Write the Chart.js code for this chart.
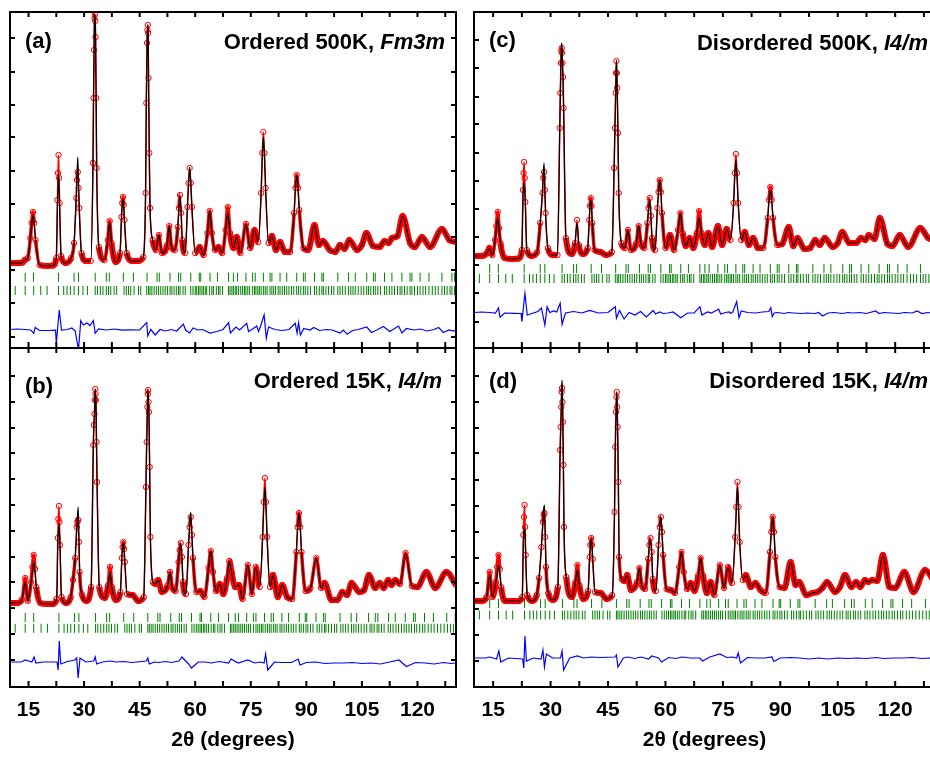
<!DOCTYPE html>
<html>
<head>
<meta charset="utf-8">
<script src="https://cdn.jsdelivr.net/npm/chart.js@4.4.1/dist/chart.umd.min.js"></script>
<style>
html, body { margin:0; padding:0; background:#fff; width:930px; height:762px; overflow:hidden; }
canvas { position:absolute; }
</style>
</head>
<body>
<canvas id="pa" width="466" height="358" style="left:0;top:0;"></canvas>
<canvas id="pb" width="466" height="424" style="left:0;top:338px;"></canvas>
<canvas id="pc" width="481" height="358" style="left:464px;top:0;"></canvas>
<canvas id="pd" width="481" height="424" style="left:464px;top:338px;"></canvas>
<script>
// ═══ DATA ═══
// 2θ grids (degrees): 500 K and 15 K patterns
const tth500 = [
  10.0, 12.0, 13.4, 14.0, 14.8, 15.5, 15.85, 16.2, 16.55, 16.9,
  18.0, 20.0, 21.6, 22.5, 22.8, 22.95, 23.1, 23.25, 23.4, 23.8,
  25.0, 26.5, 27.3, 27.9, 28.1, 28.3, 28.5, 28.7, 29.3, 30.5,
  31.8, 32.4, 32.55, 32.7, 32.8, 32.9, 33.0, 33.1, 33.25, 33.4,
  34.0, 35.5, 36.4, 36.9, 37.4, 38.5, 39.7, 40.1, 40.3, 40.5,
  40.7, 40.9, 41.5, 43.0, 44.5, 46.0, 46.6, 46.8, 47.0, 47.1,
  47.2, 47.3, 47.4, 47.6, 47.8, 48.5, 49.4, 50.2, 51.0, 52.4,
  53.0, 53.6, 54.5, 55.3, 55.6, 55.9, 56.2, 56.5, 57.3, 57.9,
  58.2, 58.5, 58.8, 59.1, 60.0, 61.2, 62.3, 63.3, 63.9, 64.5,
  65.3, 66.3, 67.3, 68.2, 68.8, 69.4, 70.3, 71.2, 72.2, 73.7,
  74.8, 76.0, 77.0, 77.8, 78.1, 78.4, 78.7, 79.0, 79.8, 80.7,
  81.8, 82.9, 84.2, 85.6, 86.7, 87.05, 87.4, 87.75, 88.1, 89.2,
  90.5, 92.2, 93.4, 94.5, 96.3, 97.8, 99.1, 100.3, 101.6, 103.7,
  105.0, 106.2, 108.0, 109.8, 111.1, 112.2, 113.1, 114.6, 116.0, 118.0,
  119.3, 121.2, 123.4, 126.6, 128.6, 130.4
];
const tth15 = [
  10.0, 12.0, 13.3, 14.1, 14.8, 15.7, 16.05, 16.4, 16.75, 17.1,
  18.2, 20.0, 21.6, 22.6, 22.9, 23.05, 23.2, 23.35, 23.5, 23.9,
  25.2, 26.4, 27.0, 27.6, 28.0, 28.2, 28.4, 28.6, 28.8, 29.4,
  30.6, 31.9, 32.5, 32.65, 32.8, 32.9, 33.0, 33.1, 33.2, 33.35,
  33.5, 34.1, 35.6, 36.5, 37.0, 37.5, 38.6, 39.8, 40.2, 40.4,
  40.6, 40.8, 41.0, 41.6, 43.1, 44.6, 46.1, 46.7, 46.9, 47.1,
  47.2, 47.3, 47.4, 47.5, 47.7, 47.9, 48.6, 49.3, 50.0, 51.0,
  52.6, 53.2, 53.8, 54.7, 55.5, 55.8, 56.1, 56.4, 56.7, 57.5,
  58.2, 58.5, 58.8, 59.1, 59.4, 60.3, 61.4, 62.5, 63.6, 64.2,
  64.8, 65.6, 66.6, 67.6, 68.6, 69.2, 69.8, 70.8, 71.8, 72.8,
  74.2, 75.3, 76.3, 77.4, 78.2, 78.5, 78.8, 79.1, 79.4, 80.2,
  81.0, 82.3, 83.5, 84.8, 86.2, 87.3, 87.65, 88.0, 88.35, 88.7,
  89.8, 91.1, 92.7, 94.0, 94.9, 96.8, 98.4, 99.7, 101.0, 102.2,
  104.3, 105.6, 106.9, 108.6, 109.8, 110.9, 112.1, 113.0, 114.0, 115.3,
  116.8, 118.5, 120.0, 122.4, 124.8, 127.8, 130.4
];

// (a) ordered, 500 K
const obsA = [
  850, 850, 855, 880, 900, 1100, 1250, 1360, 1250, 1080,
  830, 820, 825, 900, 1480, 1750, 1930, 1700, 1450, 920,
  850, 900, 1050, 1500, 1680, 1760, 1600, 1400, 950, 870,
  870, 1850, 2500, 2980, 3300, 3340, 3270, 3110, 2500, 1800,
  1010, 880, 1080, 1270, 1050, 860, 950, 1310, 1450, 1510,
  1430, 1280, 950, 870, 870, 910, 1550, 2450, 3050, 3180,
  3230, 3150, 2700, 1950, 1400, 1080, 980, 1130, 950, 1030,
  1220, 1010, 980, 1210, 1400, 1530, 1350, 1080, 950, 1410,
  1650, 1800, 1650, 1410, 950, 1010, 930, 1150, 1370, 1150,
  980, 1010, 950, 1180, 1410, 1150, 1000, 1110, 950, 1240,
  1000, 1180, 1060, 1550, 1950, 2160, 1950, 1600, 1050, 1120,
  980, 1060, 960, 960, 1350, 1600, 1730, 1600, 1380, 1000,
  980, 1230, 1030, 1070, 980, 960, 1030, 990, 1080, 980,
  1030, 1150, 1020, 1010, 1070, 1050, 1100, 1120, 1320, 1050,
  1010, 1110, 1010, 1190, 1080, 1060
];
const calcA = [
  850, 850, 855, 880, 900, 1100, 1230, 1330, 1230, 1080,
  830, 820, 825, 900, 1400, 1600, 1740, 1600, 1400, 920,
  850, 900, 1050, 1550, 1750, 1910, 1650, 1380, 950, 870,
  870, 1850, 2500, 2980, 3300, 3340, 3270, 3110, 2500, 1800,
  1010, 880, 1080, 1260, 1050, 860, 950, 1310, 1440, 1490,
  1420, 1280, 950, 870, 870, 910, 1550, 2450, 3050, 3180,
  3230, 3150, 2700, 1950, 1400, 1080, 980, 1130, 950, 1030,
  1220, 1010, 980, 1210, 1400, 1520, 1350, 1080, 950, 1410,
  1650, 1810, 1650, 1410, 950, 1010, 930, 1150, 1370, 1150,
  980, 1010, 950, 1180, 1350, 1150, 1000, 1110, 950, 1240,
  1000, 1180, 1060, 1550, 1900, 2110, 1900, 1600, 1050, 1120,
  980, 1060, 960, 960, 1350, 1600, 1730, 1600, 1380, 1000,
  980, 1230, 1030, 1070, 980, 960, 1030, 990, 1080, 980,
  1030, 1150, 1020, 1010, 1070, 1050, 1100, 1120, 1320, 1050,
  1010, 1110, 1010, 1190, 1080, 1060
];

// (b) ordered, 15 K
const obsB = [
  840, 840, 880, 1090, 860, 1050, 1200, 1320, 1180, 1000,
  840, 830, 830, 880, 1490, 1680, 1810, 1650, 1420, 900,
  840, 900, 1070, 1290, 1600, 1650, 1670, 1450, 1150, 930,
  860, 1000, 2420, 2620, 2730, 2870, 2980, 2930, 2870, 2450,
  2050, 1000, 890, 1020, 1200, 1000, 870, 950, 1290, 1400,
  1450, 1380, 1250, 930, 920, 860, 900, 2000, 2450, 2800,
  2930, 2970, 2850, 2750, 2200, 1500, 1050, 1030, 1070, 950,
  1020, 1150, 1000, 960, 1250, 1370, 1440, 1300, 1050, 930,
  1420, 1600, 1700, 1520, 1290, 950, 960, 900, 1190, 1360,
  1150, 960, 1030, 930, 1090, 1260, 1150, 1000, 1020, 880,
  1220, 930, 1200, 1000, 1500, 1850, 2090, 1850, 1500, 1000,
  1120, 900, 1020, 900, 880, 1350, 1600, 1740, 1600, 1350,
  960, 990, 1290, 990, 1040, 870, 870, 950, 920, 1040,
  950, 970, 1120, 990, 1040, 990, 1070, 1020, 1070, 1030,
  1340, 1010, 1000, 1150, 990, 1150, 1020
];
const calcB = [
  840, 840, 880, 1050, 860, 1050, 1150, 1250, 1150, 1000,
  840, 830, 830, 880, 1430, 1550, 1630, 1550, 1420, 900,
  840, 900, 1070, 1290, 1550, 1700, 1800, 1500, 1150, 930,
  860, 1000, 2420, 2620, 2730, 2870, 2980, 2930, 2870, 2450,
  2050, 1000, 890, 1020, 1150, 1000, 870, 950, 1290, 1400,
  1450, 1380, 1250, 930, 920, 860, 900, 2000, 2450, 2800,
  2930, 2970, 2850, 2750, 2200, 1500, 1050, 1030, 1070, 950,
  1020, 1150, 1000, 960, 1250, 1370, 1440, 1300, 1050, 930,
  1420, 1620, 1750, 1520, 1290, 950, 960, 900, 1190, 1360,
  1150, 960, 1030, 930, 1090, 1260, 1150, 1000, 1020, 880,
  1220, 930, 1200, 1000, 1500, 1800, 2000, 1800, 1500, 1000,
  1120, 900, 1020, 900, 880, 1350, 1600, 1740, 1600, 1350,
  960, 990, 1290, 990, 1040, 870, 870, 950, 920, 1040,
  950, 970, 1120, 990, 1040, 990, 1070, 1020, 1070, 1030,
  1330, 1010, 1000, 1150, 990, 1150, 1020
];

// (c) disordered, 500 K
const obsC = [
  920, 920, 950, 1000, 930, 1080, 1220, 1360, 1200, 1050,
  900, 890, 895, 980, 1580, 1750, 1860, 1700, 1460, 980,
  920, 960, 1250, 1550, 1700, 1760, 1580, 1350, 1000, 930,
  930, 2200, 2550, 2850, 2970, 3000, 2950, 2850, 2710, 2400,
  1100, 940, 1050, 1280, 1030, 940, 1000, 1280, 1420, 1500,
  1420, 1250, 980, 960, 930, 960, 1800, 2200, 2550, 2750,
  2870, 2750, 2600, 2150, 1550, 1050, 1000, 1180, 980, 1050,
  1220, 1050, 1000, 1250, 1400, 1500, 1320, 1100, 980, 1400,
  1560, 1680, 1560, 1350, 1000, 1130, 980, 1180, 1350, 1150,
  1020, 1100, 1000, 1150, 1370, 1150, 1030, 1150, 1010, 1220,
  1030, 1190, 1080, 1450, 1750, 1940, 1750, 1450, 1080, 1160,
  1030, 1100, 1000, 1000, 1300, 1480, 1610, 1480, 1300, 1030,
  1040, 1210, 1020, 1100, 990, 1000, 1080, 1030, 1100, 1010,
  1050, 1160, 1050, 1050, 1100, 1080, 1130, 1090, 1300, 1040,
  1020, 1130, 1010, 1200, 1100, 1080
];
const calcC = [
  920, 920, 950, 1000, 930, 1080, 1200, 1300, 1180, 1050,
  900, 890, 895, 980, 1500, 1600, 1660, 1580, 1460, 980,
  920, 960, 1250, 1600, 1750, 1850, 1600, 1330, 1000, 930,
  930, 2200, 2550, 2850, 3000, 3050, 3000, 2850, 2710, 2400,
  1100, 940, 1050, 1250, 1030, 940, 1000, 1280, 1420, 1480,
  1420, 1250, 980, 960, 930, 960, 1800, 2200, 2550, 2750,
  2880, 2750, 2600, 2150, 1550, 1050, 1000, 1180, 980, 1050,
  1220, 1050, 1000, 1250, 1400, 1480, 1320, 1100, 980, 1400,
  1560, 1680, 1560, 1350, 1000, 1130, 980, 1180, 1350, 1150,
  1020, 1100, 1000, 1150, 1300, 1150, 1030, 1150, 1010, 1220,
  1030, 1190, 1080, 1450, 1700, 1880, 1700, 1450, 1080, 1160,
  1030, 1100, 1000, 1000, 1300, 1480, 1580, 1480, 1300, 1030,
  1040, 1210, 1020, 1100, 990, 1000, 1080, 1030, 1100, 1010,
  1050, 1160, 1050, 1050, 1100, 1080, 1130, 1090, 1300, 1040,
  1020, 1130, 1010, 1200, 1100, 1080
];

// (d) disordered, 15 K
const obsD = [
  860, 860, 900, 1150, 900, 1050, 1200, 1320, 1180, 1000,
  860, 860, 860, 900, 1520, 1700, 1820, 1600, 1320, 920,
  860, 920, 1090, 1400, 1650, 1720, 1740, 1500, 1200, 940,
  870, 1000, 2370, 2600, 2800, 2950, 2990, 2850, 2650, 2220,
  1600, 1100, 900, 1050, 1220, 1020, 880, 960, 1300, 1420,
  1490, 1420, 1280, 950, 940, 880, 920, 1750, 2400, 2750,
  2900, 2950, 2800, 2600, 2050, 1300, 1080, 1060, 1120, 970,
  1050, 1190, 1020, 980, 1280, 1420, 1490, 1350, 1080, 960,
  1420, 1600, 1700, 1550, 1320, 980, 970, 940, 1200, 1350,
  1150, 980, 1040, 960, 1120, 1290, 1120, 940, 1050, 920,
  1220, 990, 1200, 1040, 1500, 1800, 2050, 1800, 1450, 1070,
  1120, 1000, 1040, 970, 940, 1350, 1550, 1700, 1550, 1300,
  1000, 990, 1250, 1020, 1050, 920, 940, 950, 990, 1050,
  950, 1000, 1120, 1000, 1050, 1000, 1070, 1050, 1070, 1060,
  1320, 1000, 990, 1150, 950, 1170, 1040
];
const calcD = [
  860, 860, 900, 1120, 900, 1050, 1130, 1220, 1120, 1000,
  860, 860, 860, 900, 1450, 1550, 1600, 1500, 1320, 920,
  860, 920, 1090, 1400, 1650, 1780, 1820, 1550, 1200, 940,
  870, 1000, 2370, 2600, 2800, 3000, 3070, 2950, 2650, 2220,
  1600, 1100, 900, 1050, 1170, 1020, 880, 960, 1300, 1420,
  1480, 1420, 1280, 950, 940, 880, 920, 1750, 2400, 2750,
  2900, 2950, 2800, 2600, 2050, 1300, 1080, 1060, 1120, 970,
  1050, 1190, 1020, 980, 1280, 1420, 1480, 1350, 1080, 960,
  1420, 1600, 1710, 1550, 1320, 980, 970, 940, 1200, 1350,
  1150, 980, 1040, 960, 1120, 1290, 1120, 940, 1050, 920,
  1220, 990, 1200, 1040, 1500, 1750, 2000, 1750, 1450, 1070,
  1120, 1000, 1040, 970, 940, 1350, 1550, 1700, 1550, 1300,
  1000, 990, 1250, 1020, 1050, 920, 940, 950, 990, 1050,
  950, 1000, 1120, 1000, 1050, 1000, 1070, 1050, 1070, 1060,
  1320, 1000, 990, 1150, 950, 1170, 1040
];

// difference curves (obs - calc, offset below the patterns)
const diffTth500 = [
  10.0, 12.0, 14.0, 15.6, 16.4, 16.8, 18.0, 20.5, 22.3, 22.5,
  23.3, 23.9, 25.5, 26.7, 27.6, 28.5, 29.1, 29.8, 30.8, 31.6,
  32.5, 33.0, 33.9, 36.0, 38.2, 40.2, 42.5, 45.0, 46.9, 47.2,
  48.0, 49.2, 50.5, 52.0, 53.5, 55.0, 56.8, 57.4, 58.5, 59.4,
  60.7, 62.0, 64.0, 65.8, 67.5, 69.0, 69.5, 71.0, 72.0, 73.9,
  74.4, 75.7, 76.6, 77.1, 77.6, 78.6, 79.2, 79.8, 81.5, 83.5,
  85.3, 87.0, 87.5, 87.9, 88.4, 89.3, 91.0, 92.0, 93.5, 95.5,
  97.0, 99.1, 100.0, 101.0, 102.5, 104.0, 106.3, 107.6, 109.0, 110.8,
  112.5, 114.9, 115.8, 117.0, 119.0, 120.8, 122.5, 124.5, 125.7, 127.0,
  128.5, 129.7, 130.4
];
const diffTth15 = [
  10, 13, 14.1, 15.9, 16.5, 17.0, 19, 22.7, 23.0, 23.3,
  23.7, 25.5, 27.5, 28.0, 28.4, 28.9, 30.5, 32.6, 33.0, 33.4,
  35, 37.0, 38.6, 40.6, 43, 46.8, 47.2, 47.6, 49, 50.1,
  52, 53.6, 55.6, 56.4, 58.2, 59.0, 60.8, 62.8, 64.3, 66.5,
  69.0, 69.7, 71.6, 74.2, 76.0, 77.5, 78.6, 79.0, 79.6, 81.4,
  83.5, 86.0, 87.8, 88.3, 90, 92.6, 95, 97.5, 100, 102.5,
  105, 107.5, 110, 112.5, 115, 117, 119.5, 122, 124.5, 127,
  129, 130.4
];
const diffA = [
  185, 190, 185, 180, 147, 205, 175, 175, 178, 47,
  380, 180, 185, 200, 170, -20, 273, 230, 250, 225,
  273, 147, 190, 180, 190, 178, 182, 180, 253, 120,
  185, 130, 185, 170, 185, 170, 240, 180, 150, 200,
  180, 185, 150, 165, 185, 253, 150, 210, 180, 247,
  165, 195, 220, 165, 215, 330, 97, 210, 185, 175,
  185, 247, 150, 253, 130, 195, 180, 205, 175, 185,
  180, 150, 180, 137, 175, 185, 210, 155, 180, 215,
  165, 220, 150, 195, 180, 190, 170, 185, 205, 155,
  180, 170, 180
];
const diffB = [
  250, 250, 270, 250, 300, 240, 250, 250, 170, 460,
  230, 255, 270, 290, 90, 290, 250, 260, 300, 230,
  250, 260, 250, 255, 245, 260, 290, 230, 250, 245,
  255, 245, 260, 300, 230, 190, 250, 250, 240, 255,
  240, 280, 240, 270, 240, 250, 240, 330, 170, 250,
  245, 245, 280, 220, 245, 250, 235, 240, 240, 245,
  235, 240, 230, 250, 270, 205, 245, 240, 230, 245,
  235, 240
];
const diffC = [
  355, 360, 355, 350, 400, 307, 350, 347, 345, 263,
  547, 330, 350, 365, 400, 230, 413, 355, 370, 360,
  447, 237, 350, 365, 350, 375, 350, 355, 413, 297,
  375, 290, 355, 330, 365, 310, 375, 340, 360, 345,
  350, 360, 303, 350, 350, 413, 330, 360, 350, 390,
  340, 355, 360, 345, 360, 463, 303, 370, 355, 350,
  360, 365, 403, 313, 350, 355, 345, 355, 350, 345,
  350, 345, 355, 320, 350, 355, 345, 355, 350, 355,
  345, 370, 345, 355, 350, 345, 355, 350, 370, 345,
  355, 350, 350
];
const diffD = [
  290, 290, 300, 280, 360, 250, 290, 280, 190, 510,
  260, 290, 280, 370, 200, 330, 290, 290, 360, 170,
  290, 310, 290, 300, 295, 300, 320, 200, 290, 300,
  285, 300, 280, 310, 290, 250, 295, 285, 300, 290,
  290, 260, 300, 330, 295, 300, 290, 340, 240, 295,
  290, 290, 300, 255, 290, 295, 290, 280, 290, 280,
  290, 285, 290, 285, 295, 285, 290, 290, 295, 285,
  290, 285
];

// Bragg reflection positions, two phases per temperature
const refl500a = [
  14.1, 16.35, 23.1, 27.3, 28.5, 33.0, 36.0, 36.8, 40.6, 43.3,
  47.0, 49.7, 50.3, 53.2, 55.5, 56.1, 58.8, 61.1, 61.5, 64.0,
  66.0, 69.0, 70.3, 71.4, 73.7, 75.5, 76.2, 78.4, 80.2, 80.7,
  82.9, 84.7, 87.4, 89.2, 89.7, 92.2, 94.2, 94.6, 98.5, 101.4,
  103.2, 106.3, 108.1, 108.6, 111.1, 113.1, 115.8, 118.0, 118.5, 120.7,
  123.1, 126.6, 129.3, 130.0
];
const refl500b = [
  11.4, 14.1, 16.4, 18.3, 20.0, 23.1, 24.5, 25.4, 26.3, 27.3,
  28.5, 29.7, 30.9, 33.0, 33.6, 34.4, 35.1, 36.0, 36.6, 37.2,
  38.1, 38.8, 40.8, 41.4, 42.0, 42.6, 43.5, 44.7, 45.3, 46.9,
  47.4, 47.8, 48.3, 48.9, 49.5, 50.1, 50.7, 51.3, 51.9, 52.5,
  53.2, 53.7, 54.3, 54.9, 55.5, 55.9, 56.7, 57.3, 58.8, 59.4,
  60.0, 60.4, 60.9, 61.3, 61.8, 62.2, 62.7, 63.1, 63.9, 64.5,
  64.9, 65.7, 66.3, 66.7, 67.4, 69.0, 69.4, 69.9, 70.3, 70.8,
  71.2, 71.7, 72.3, 72.8, 73.3, 73.7, 74.2, 74.7, 75.5, 76.0,
  76.4, 76.9, 77.3, 77.8, 78.4, 78.9, 79.4, 80.2, 80.7, 81.2,
  81.7, 82.4, 82.9, 83.5, 84.1, 84.7, 85.3, 86.0, 86.6, 87.4,
  87.9, 88.5, 89.2, 89.7, 90.4, 91.1, 92.2, 92.8, 93.5, 94.2,
  94.6, 95.3, 96.0, 96.8, 97.4, 98.5, 99.1, 99.8, 100.5, 101.4,
  102.0, 102.6, 103.2, 104.0, 104.8, 105.5, 106.3, 106.8, 107.4, 108.1,
  108.6, 109.3, 110.0, 111.1, 111.7, 112.4, 113.1, 113.8, 114.6, 115.3,
  115.8, 116.5, 117.2, 118.0, 118.5, 119.2, 120.0, 120.7, 121.5, 122.2,
  123.1, 124.0, 124.8, 125.6, 126.6, 127.3, 128.0, 128.8, 129.3, 130.0
];
const refl15a = [
  14.1, 16.4, 23.2, 27.4, 28.6, 33.1, 36.1, 36.9, 40.7, 43.4,
  47.2, 49.9, 50.5, 53.4, 55.7, 56.3, 59.0, 61.3, 61.7, 64.2,
  66.3, 69.0, 70.8, 71.7, 73.9, 75.7, 76.4, 78.7, 80.5, 81.1,
  83.4, 85.2, 88.1, 89.7, 90.1, 92.6, 94.6, 95.1, 99.1, 102.1,
  103.6, 106.8, 108.6, 109.3, 112.2, 114.0, 116.7, 118.9, 119.4, 121.9,
  124.3, 127.9, 130.2
];
const refl15b = [
  11.4, 14.1, 16.4, 18.4, 20.1, 23.2, 24.6, 25.5, 26.4, 27.4,
  28.6, 29.8, 31.0, 33.1, 33.7, 34.5, 35.3, 36.1, 36.7, 37.4,
  38.3, 39.0, 41.0, 41.6, 42.2, 42.8, 43.7, 44.9, 45.5, 47.2,
  47.6, 48.1, 48.6, 49.2, 49.8, 50.4, 51.0, 51.6, 52.2, 52.8,
  53.5, 54.0, 54.6, 55.2, 55.8, 56.3, 57.0, 57.6, 59.1, 59.7,
  60.3, 60.8, 61.3, 61.7, 62.2, 62.6, 63.1, 63.6, 64.3, 64.9,
  65.3, 66.1, 66.7, 67.2, 67.9, 69.5, 69.9, 70.4, 70.8, 71.3,
  71.8, 72.3, 72.8, 73.3, 73.9, 74.4, 74.9, 75.7, 76.4, 76.9,
  77.4, 77.9, 78.3, 78.9, 79.5, 80.0, 80.5, 81.1, 81.6, 82.1,
  82.9, 83.4, 84.0, 84.6, 85.2, 85.9, 86.5, 87.2, 88.1, 88.6,
  89.2, 89.9, 90.4, 91.1, 91.8, 92.9, 93.5, 94.2, 94.9, 95.3,
  96.0, 96.8, 97.6, 98.2, 99.3, 99.9, 100.6, 101.3, 102.2, 102.8,
  103.4, 104.1, 104.8, 105.6, 106.3, 107.2, 107.7, 108.3, 109.1, 109.6,
  110.3, 111.0, 112.1, 112.7, 113.4, 114.2, 114.9, 115.7, 116.4, 117.0,
  117.7, 118.4, 119.2, 119.8, 120.6, 121.4, 122.0, 122.9, 123.7, 124.5,
  125.4, 126.3, 127.2, 128.1, 128.9, 129.7, 130.3
];

// axes
const xTickLabels = [15, 30, 45, 60, 75, 90, 105, 120];
const xTickMarks = [15, 22.5, 30, 37.5, 45, 52.5, 60, 67.5, 75, 82.5, 90, 97.5, 105, 112.5, 120, 127.5];
const yTicksA = [110, 450, 780, 1110, 1440, 1770, 2110, 2430, 2760, 3100];
const yTicksB = [270, 530, 790, 1050, 1300, 1560, 1820, 2080, 2340, 2590, 2850, 3110];
const yTicksC = [260, 550, 830, 1110, 1390, 1670, 1950, 2240, 2510, 2800, 3080];
const yTicksD = [260, 520, 780, 1040, 1290, 1550, 1810, 2070, 2340, 2590, 2850, 3110];

// ═══ DRAWING ═══
const FONT = '"Liberation Sans", Arial, Helvetica, sans-serif';
const pts = (xs, ys) => xs.map((x, i) => ({ x: x, y: ys[i] }));
const row = (xs, y) => xs.map(x => ({ x: x, y: y }));

// observed trace: wide band where the points crowd, thin on steep peak flanks
const obsWidth = c => {
    const dx = Math.abs(c.p1.x - c.p0.x) || 0.01, dy = Math.abs(c.p1.y - c.p0.y);
    const r = dy / dx;
    return r > 12 ? 1.5 : r > 5 ? 3.5 : 6;
};

// box, inward ticks on all four sides, panel letter and caption
function framePlugin(p) {
    return {
        id: 'frame',
        afterDraw(chart) {
            const { ctx, chartArea: a, scales } = chart;
            ctx.save();
            ctx.strokeStyle = '#000';
            ctx.lineWidth = 2;
            ctx.strokeRect(a.left, a.top, a.right - a.left, a.bottom - a.top);
            ctx.beginPath();
            xTickMarks.forEach(v => {
                const px = scales.x.getPixelForValue(v);
                ctx.moveTo(px, a.bottom); ctx.lineTo(px, a.bottom - 6);
                ctx.moveTo(px, a.top); ctx.lineTo(px, a.top + 5);
            });
            p.yTicks.forEach(v => {
                const py = scales.y.getPixelForValue(v);
                ctx.moveTo(a.left, py); ctx.lineTo(a.left + 5, py);
                ctx.moveTo(a.right, py); ctx.lineTo(a.right - 5, py);
            });
            ctx.stroke();
            ctx.fillStyle = '#000';
            ctx.textBaseline = 'alphabetic';
            ctx.font = `bold 22px ${FONT}`;
            ctx.textAlign = 'left';
            ctx.fillText(p.letter, a.left + 15, a.top + p.letterDy);
            ctx.textAlign = 'right';
            ctx.font = `italic bold 22px ${FONT}`;
            const xr = a.right - p.titleDx;
            const w = ctx.measureText(p.group).width;
            ctx.fillText(p.group, xr, a.top + p.titleDy);
            ctx.font = `bold 22px ${FONT}`;
            ctx.fillText(p.title, xr - w, a.top + p.titleDy);
            ctx.restore();
        }
    };
}

function makePanel(id, p) {
    const datasets = [
        { data: pts(p.tth, p.calc), borderColor: '#000', borderWidth: 1.2, pointRadius: 0, cubicInterpolationMode: 'monotone' },
        { data: pts(p.tth, p.obs), borderColor: '#ff0000', borderWidth: 6, segment: { borderWidth: obsWidth },
          pointRadius: 2.7, pointBorderWidth: 1, pointBorderColor: '#ff0000', pointBackgroundColor: 'rgba(255,255,255,0)',
          cubicInterpolationMode: 'monotone' },
        { data: pts(p.diffTth, p.diff), borderColor: '#0000ff', borderWidth: 1.2, pointRadius: 0 },
        { data: row(p.reflA, p.rowA), showLine: false, pointStyle: 'line', rotation: 90, pointRadius: 4.5,
          pointBorderWidth: 1, pointBorderColor: '#008000' },
        { data: row(p.reflB, p.rowB), showLine: false, pointStyle: 'line', rotation: 90, pointRadius: 4.5,
          pointBorderWidth: 1, pointBorderColor: '#008000' }
    ];
    const x = {
        type: 'linear', min: 10, max: 130.4, display: p.bottom,
        grid: { display: false, drawTicks: false }, border: { display: false },
        afterBuildTicks: s => { s.ticks = xTickLabels.map(v => ({ value: v })); },
        afterFit: s => { s.height = p.bottom ? 75 : 0; },
        ticks: { autoSkip: false, maxRotation: 0, padding: 11, color: '#000', font: { family: FONT, size: 21, weight: 'bold' } },
        title: { display: true, text: '2θ (degrees)', color: '#000', padding: { top: 0, bottom: 9 },
                 font: { family: FONT, size: 21, weight: 'bold' } }
    };
    new Chart(document.getElementById(id), {
        type: 'line',
        data: { datasets },
        options: {
            responsive: false, animation: false, events: [],
            layout: { padding: p.bottom ? { left: 10, top: 10, right: 10, bottom: 0 } : { left: 10, top: 12, right: 10, bottom: 10 } },
            plugins: { legend: { display: false }, tooltip: { enabled: false } },
            scales: { x, y: { type: 'linear', display: false, min: 0, max: p.ymax } }
        },
        plugins: [framePlugin(p)]
    });
}

makePanel('pa', { tth: tth500, obs: obsA, calc: calcA, diffTth: diffTth500, diff: diffA,
    reflA: refl500a, reflB: refl500b, rowA: 708, rowB: 575, ymax: 3360, yTicks: yTicksA, bottom: false,
    letter: '(a)', title: 'Ordered 500K, ', group: 'Fm3m', letterDy: 36, titleDy: 37, titleDx: 11 });
makePanel('pb', { tth: tth15, obs: obsB, calc: calcB, diffTth: diffTth15, diff: diffB,
    reflA: refl15a, reflB: refl15b, rowA: 695, rowB: 587, ymax: 3390, yTicks: yTicksB, bottom: true,
    letter: '(b)', title: 'Ordered 15K, ', group: 'I4/m', letterDy: 45, titleDy: 40, titleDx: 14 });
makePanel('pc', { tth: tth500, obs: obsC, calc: calcC, diffTth: diffTth500, diff: diffC,
    reflA: refl500a, reflB: refl500b, rowA: 795, rowB: 695, ymax: 3360, yTicks: yTicksC, bottom: false,
    letter: '(c)', title: 'Disordered 500K, ', group: 'I4/m', letterDy: 35, titleDy: 38, titleDx: 7 });
makePanel('pd', { tth: tth15, obs: obsD, calc: calcD, diffTth: diffTth15, diff: diffD,
    reflA: refl15a, reflB: refl15b, rowA: 835, rowB: 720, ymax: 3390, yTicks: yTicksD, bottom: true,
    letter: '(d)', title: 'Disordered 15K, ', group: 'I4/m', letterDy: 40, titleDy: 40, titleDx: 7 });
</script>
</body>
</html>
